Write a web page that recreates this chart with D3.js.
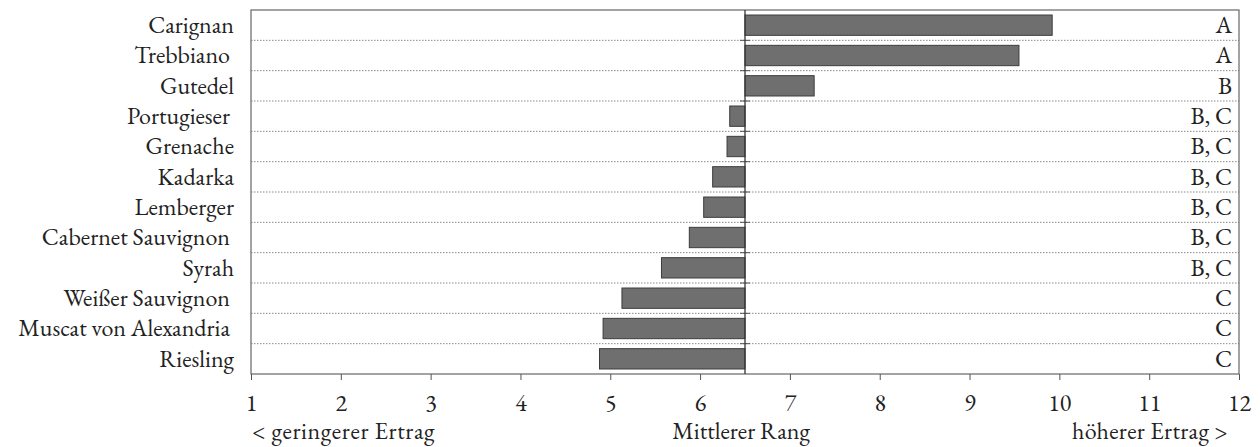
<!DOCTYPE html>
<html><head><meta charset="utf-8">
<script src="https://cdn.jsdelivr.net/npm/d3@7"></script>
<style>body{margin:0;background:#fff}svg{display:block}</style>
</head><body><svg id="c" width="1260" height="447"></svg>
<script>
const categories = ["Carignan","Trebbiano","Gutedel","Portugieser","Grenache","Kadarka","Lemberger","Cabernet Sauvignon","Syrah","Weißer Sauvignon","Muscat von Alexandria","Riesling"];
const labelPad = [0,1,0,1,0,0,0,1,0,1,1,0];
const meanRank = [9.92,9.55,7.27,6.33,6.30,6.14,6.04,5.88,5.57,5.13,4.92,4.88];
const groups = ["A","A","B","B, C","B, C","B, C","B, C","B, C","B, C","C","C","C"];
const tickValues = [1,2,3,4,5,6,7,8,9,10,11,12];
const baseline = 6.5;
const axisLabels = ["< geringerer Ertrag","Mittlerer Rang","höherer Ertrag >"];

const FS = "24px";
const FF = '"EB Garamond", "Liberation Serif", serif';
const svg = d3.select("#c");
const L=251,R=1239,T=10,B=374;
const x = d3.scaleLinear().domain([1,12]).range([L,R]);
const y = d3.scaleBand().domain(categories).range([T,B]).paddingInner(0.33).paddingOuter(0.165);
const step = y.step();

function styleText(sel){ return sel.style("font-family",FF).style("font-size",FS).style("fill","#222"); }

// dotted separators
categories.slice(0,-1).forEach((c,i)=>{
  const yy = T + step*(i+1);
  svg.append("line").attr("x1",L).attr("x2",R).attr("y1",yy).attr("y2",yy)
    .attr("stroke","#8a8a8a").attr("stroke-width",1).attr("stroke-dasharray","1.5,1.5");
  svg.append("line").attr("x1",x(baseline)-5).attr("x2",x(baseline)+5).attr("y1",yy).attr("y2",yy)
    .attr("stroke","#555").attr("stroke-width",1);
});

// bars
svg.selectAll("rect.bar").data(categories).enter().append("rect")
  .attr("x",(d,i)=>x(Math.min(meanRank[i],baseline)))
  .attr("width",(d,i)=>Math.abs(x(meanRank[i])-x(baseline)))
  .attr("y",d=>y(d)).attr("height",y.bandwidth())
  .attr("fill","#6f6f6f").attr("stroke","#3c3c3c").attr("stroke-width",1);

// frame
svg.append("rect").attr("x",L).attr("y",T).attr("width",R-L).attr("height",B-T)
  .attr("fill","none").attr("stroke","#666").attr("stroke-width",1.2);
// baseline
svg.append("line").attr("x1",x(baseline)).attr("x2",x(baseline)).attr("y1",T).attr("y2",B)
  .attr("stroke","#333").attr("stroke-width",1.3);

// x axis
const ax = svg.append("g").attr("transform",`translate(0,${B})`)
  .call(d3.axisBottom(x).tickValues(tickValues).tickFormat(d3.format("d")).tickSize(6).tickPadding(14));
ax.select(".domain").remove();
ax.selectAll("line").attr("stroke","#555");
styleText(ax.selectAll("text"));

// category labels
styleText(svg.selectAll("text.cat").data(categories).enter().append("text")
  .attr("x",(d,i)=>234-labelPad[i]*4).attr("y",d=>y(d)+y.bandwidth()/2)
  .attr("dy","0.33em").attr("text-anchor","end").text(d=>d));

// group letters
styleText(svg.selectAll("text.grp").data(groups).enter().append("text")
  .attr("x",1232).attr("y",(d,i)=>y(categories[i])+y.bandwidth()/2)
  .attr("dy","0.33em").attr("text-anchor","end").text(d=>d));

// axis bottom labels
styleText(svg.append("text").attr("x",L+1).attr("y",439).attr("text-anchor","start").text(axisLabels[0])).style("letter-spacing","0.6px");
styleText(svg.append("text").attr("x",x(baseline)-4).attr("y",439).attr("text-anchor","middle").text(axisLabels[1]));
styleText(svg.append("text").attr("x",1228).attr("y",439).attr("text-anchor","end").text(axisLabels[2])).style("letter-spacing","0.3px");
</script></body></html>
